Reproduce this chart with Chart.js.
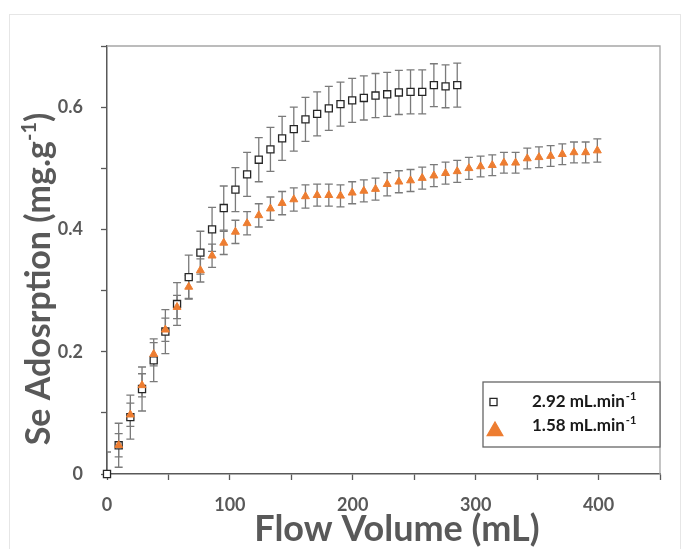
<!DOCTYPE html>
<html>
<head>
<meta charset="utf-8">
<script src="https://cdn.jsdelivr.net/npm/chart.js@4.4.1/dist/chart.umd.min.js"></script>
<style>
  html, body { margin: 0; padding: 0; background: #fff; }
  #wrap { position: relative; width: 688px; height: 549px; overflow: hidden; }
  #marco { position: absolute; left: 9px; top: 14px; width: 670px; height: 560px; border: 1px solid #e6e6e6; }
  canvas { position: absolute; left: 0; top: 0; }
</style>
</head>
<body>
<div id="wrap"><div id="marco"></div><canvas id="grafica" width="688" height="549"></canvas></div>
<script>
// volumen de flujo (mL)
const volumen = [0, 9.5, 19, 28.5, 38, 47.5, 57, 66.5, 76, 85.5, 95, 104.5, 114, 123.5, 133, 142.5,
  152, 161.5, 171, 180.5, 190, 199.5, 209, 218.5, 228, 237.5, 247, 256.5, 266, 275.5, 285,
  294.5, 304, 313.5, 323, 332.5, 342, 351.5, 361, 370.5, 380, 389.5, 399];

// 2.92 mL/min
const adsRapido = [0, 0.047, 0.093, 0.139, 0.186, 0.233, 0.278, 0.322, 0.362, 0.400, 0.435,
  0.465, 0.490, 0.514, 0.531, 0.549, 0.564, 0.580, 0.589, 0.598, 0.605, 0.611, 0.615,
  0.619, 0.621, 0.624, 0.625, 0.625, 0.636, 0.634, 0.636];
const errRapido = [0.036, 0.036, 0.036, 0.036, 0.035, 0.036, 0.035, 0.036, 0.035, 0.036, 0.036,
  0.036, 0.036, 0.036, 0.036, 0.036, 0.036, 0.036, 0.036, 0.036, 0.036, 0.036, 0.036,
  0.036, 0.036, 0.036, 0.036, 0.036, 0.035, 0.035, 0.036];

// 1.58 mL/min
const adsLento = [null, 0.047, 0.097, 0.145, 0.196, 0.236, 0.273, 0.306, 0.333, 0.357, 0.378,
  0.396, 0.410, 0.423, 0.434, 0.443, 0.449, 0.454, 0.456, 0.456, 0.455, 0.460, 0.463,
  0.466, 0.474, 0.478, 0.480, 0.484, 0.488, 0.492, 0.495, 0.500, 0.503, 0.505, 0.509,
  0.509, 0.516, 0.518, 0.520, 0.523, 0.526, 0.526, 0.529];
const errLento = [null, 0.019, 0.019, 0.019, 0.019, 0.019, 0.019, 0.019, 0.019, 0.019, 0.019,
  0.019, 0.019, 0.019, 0.019, 0.019, 0.019, 0.019, 0.018, 0.018, 0.018, 0.018, 0.018,
  0.018, 0.019, 0.018, 0.018, 0.018, 0.018, 0.018, 0.018, 0.018, 0.017, 0.017, 0.017,
  0.017, 0.017, 0.017, 0.017, 0.017, 0.017, 0.017, 0.019];

const etiquetas = ['2.92 mL.min', '1.58 mL.min'];
const superindice = '-1';
const tituloX = 'Flow Volume (mL)';
const tituloY = 'Se Adosrption (mg.g';
const ticksY = [0, 0.2, 0.4, 0.6];
const ticksX = [0, 100, 200, 300, 400];

const gris = '#595959';
const naranja = '#ED7D31';
const fuente = 'Lato, "Open Sans", sans-serif';

function puntos(ys, errs) {
  return volumen.map((x, i) => ({ x: x, y: ys[i], e: errs[i] })).filter(p => p.y != null);
}

const barrasError = {
  id: 'barrasError',
  beforeDatasetsDraw(chart) {
    const { ctx, chartArea, scales: { x, y } } = chart;
    ctx.save();
    ctx.beginPath();
    ctx.rect(chartArea.left, chartArea.top, chartArea.right - chartArea.left, chartArea.bottom - chartArea.top);
    ctx.clip();
    ctx.strokeStyle = '#7a7a7a';
    ctx.lineWidth = 1.3;
    chart.data.datasets.forEach(ds => {
      ds.data.forEach(p => {
        const px = x.getPixelForValue(p.x);
        const y1 = y.getPixelForValue(p.y + p.e);
        const y2 = y.getPixelForValue(p.y - p.e);
        ctx.beginPath();
        ctx.moveTo(px, y1); ctx.lineTo(px, y2);
        ctx.moveTo(px - 4, y1); ctx.lineTo(px + 4, y1);
        ctx.moveTo(px - 4, y2); ctx.lineTo(px + 4, y2);
        ctx.stroke();
      });
    });
    ctx.restore();

    // marco superior y derecho
    ctx.save();
    ctx.strokeStyle = '#a6a6a6';
    ctx.lineWidth = 1.3;
    ctx.beginPath();
    ctx.moveTo(chartArea.left, chartArea.top);
    ctx.lineTo(chartArea.right, chartArea.top);
    ctx.lineTo(chartArea.right, chartArea.bottom);
    ctx.stroke();
    ctx.restore();
  }
};

const titulosYLeyenda = {
  id: 'titulosYLeyenda',
  afterDraw(chart) {
    const ctx = chart.ctx;
    ctx.save();
    ctx.fillStyle = gris;
    ctx.textBaseline = 'alphabetic';

    // titulo X
    ctx.font = 'bold 36px ' + fuente;
    ctx.textAlign = 'center';
    ctx.fillText(tituloX, 397, 541);

    // titulo Y con superindice
    ctx.textAlign = 'left';
    const fGrande = 'bold 34px ' + fuente;
    const fSup = 'bold 20px ' + fuente;
    ctx.font = fGrande;
    const w1 = ctx.measureText(tituloY).width;
    const w3 = ctx.measureText(')').width;
    ctx.font = fSup;
    const w2 = ctx.measureText(superindice).width;
    const total = w1 + w2 + w3;
    ctx.translate(50, 279);
    ctx.rotate(-Math.PI / 2);
    let xx = -total / 2;
    ctx.font = fGrande;
    ctx.fillText(tituloY, xx, 0);
    xx += w1;
    ctx.font = fSup;
    ctx.fillText(superindice, xx, -14);
    xx += w2;
    ctx.font = fGrande;
    ctx.fillText(')', xx, 0);
    ctx.restore();

    // leyenda
    ctx.save();
    ctx.fillStyle = '#ffffff';
    ctx.fillRect(483, 382, 177, 65);
    ctx.strokeStyle = '#666666';
    ctx.lineWidth = 1.3;
    ctx.strokeRect(483, 382, 177, 65);

    ctx.fillStyle = '#ffffff';
    ctx.strokeStyle = '#262626';
    Chart.helpers.drawPoint(ctx, { pointStyle: 'rect', radius: 5, rotation: 0, borderWidth: 1.3 }, 493.5, 402);
    ctx.fillStyle = naranja;
    ctx.strokeStyle = naranja;
    Chart.helpers.drawPoint(ctx, { pointStyle: 'triangle', radius: 9, rotation: 0, borderWidth: 1 }, 495, 431);

    const filas = [407, 431];
    etiquetas.forEach((t, i) => {
      ctx.fillStyle = '#1a1a1a';
      ctx.font = 'bold 17px ' + fuente;
      ctx.textAlign = 'left';
      ctx.fillText(t, 532, filas[i]);
      const w = ctx.measureText(t).width;
      ctx.font = 'bold 11px ' + fuente;
      ctx.fillText(superindice, 532 + w + 1, filas[i] - 7);
    });
    ctx.restore();
  }
};

new Chart(document.getElementById('grafica').getContext('2d'), {
  type: 'scatter',
  data: {
    datasets: [
      {
        label: etiquetas[0],
        data: puntos(adsRapido, errRapido),
        order: 2,
        clip: false,
        pointStyle: 'rect',
        pointRadius: 5,
        pointHoverRadius: 5,
        pointBackgroundColor: '#ffffff',
        pointBorderColor: '#262626',
        pointBorderWidth: 1.3
      },
      {
        label: etiquetas[1],
        data: puntos(adsLento, errLento),
        order: 1,
        clip: false,
        pointStyle: 'triangle',
        pointRadius: 4.6,
        pointHoverRadius: 4.6,
        pointBackgroundColor: naranja,
        pointBorderColor: naranja,
        pointBorderWidth: 1
      }
    ]
  },
  options: {
    responsive: false,
    animation: false,
    layout: { padding: { top: 46, right: 28, left: 0, bottom: 0 } },
    plugins: { legend: { display: false }, tooltip: { enabled: false } },
    scales: {
      x: {
        type: 'linear',
        min: 0,
        max: 450,
        afterFit: s => { s.height = 75; },
        border: { display: true, color: gris, width: 1.5 },
        grid: { drawOnChartArea: false, drawTicks: true, tickLength: 6, tickColor: gris, tickWidth: 1.3 },
        ticks: {
          stepSize: 50,
          autoSkip: false,
          maxRotation: 0,
          padding: 14,
          color: gris,
          font: { family: fuente, size: 18, weight: 'bold' },
          callback: v => ticksX.includes(Math.round(v)) ? String(Math.round(v)) : ''
        }
      },
      y: {
        type: 'linear',
        min: 0,
        max: 0.7,
        afterFit: s => { s.width = 107; },
        border: { display: true, color: gris, width: 1.5 },
        grid: { drawOnChartArea: false, drawTicks: true, tickLength: 6, tickColor: gris, tickWidth: 1.3 },
        ticks: {
          stepSize: 0.1,
          autoSkip: false,
          padding: 18,
          color: gris,
          font: { family: fuente, size: 18, weight: 'bold' },
          callback: v => {
            const r = Math.round(v * 10) / 10;
            return ticksY.includes(r) ? String(r) : '';
          }
        }
      }
    }
  },
  plugins: [barrasError, titulosYLeyenda]
});
</script>
</body>
</html>
